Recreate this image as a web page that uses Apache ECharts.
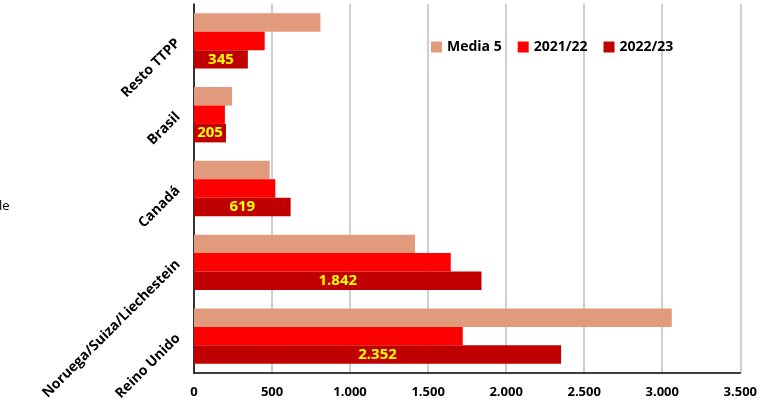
<!DOCTYPE html>
<html><head><meta charset="utf-8">
<script src="https://cdn.jsdelivr.net/npm/echarts@6/dist/echarts.min.js"></script>
<style>html,body{margin:0;padding:0;background:#fff}#c{width:760px;height:411px}</style>
</head><body><div id="c"></div>
<script>
var categories = ['Reino Unido', 'Noruega/Suiza/Liechestein', 'Canadá', 'Brasil', 'Resto TTPP'];
var media5 = [3061, 1416, 485, 244, 810];
var v2122 = [1722, 1645, 521, 198, 453];
var v2223 = [2352, 1842, 619, 205, 345];
var xTicks = [0, 500, 1000, 1500, 2000, 2500, 3000, 3500];

function fmt(v) { return String(v).replace(/\B(?=(\d{3})+(?!\d))/g, '.'); }
var FONT = 'Open Sans';
var chart = echarts.init(document.getElementById('c'));
chart.setOption({
  animation: false,
  textStyle: { fontFamily: FONT },
  legend: {
    data: ['Media 5', '2021/22', '2022/23'],
    left: 426, top: 35,
    itemWidth: 11, itemHeight: 11, itemGap: 16,
    icon: 'rect',
    textStyle: { fontSize: 14, fontWeight: 'bold', color: '#000', fontFamily: FONT }
  },
  grid: { left: 194, right: 18, top: 4, bottom: 38, containLabel: false },
  xAxis: {
    type: 'value', min: xTicks[0], max: xTicks[xTicks.length - 1], interval: 500,
    axisLine: { show: true, lineStyle: { color: '#000', width: 1.5 } },
    axisTick: { show: false },
    splitLine: { show: true, lineStyle: { color: '#BFBFBF', width: 1.5 } },
    axisLabel: { formatter: fmt, color: '#000', fontSize: 13, fontWeight: 'bold', margin: 13, fontFamily: FONT }
  },
  yAxis: {
    type: 'category', data: categories,
    axisLine: { show: true, lineStyle: { color: '#000', width: 1.5 } },
    axisTick: { show: false },
    axisLabel: { rotate: 45, color: '#000', fontSize: 14, fontWeight: 'bold', margin: 16, fontFamily: FONT }
  },
  series: [
    { name: 'Media 5', type: 'bar', data: media5, itemStyle: { color: '#E29A7C' }, barGap: '0%', barCategoryGap: '25%' },
    { name: '2021/22', type: 'bar', data: v2122, itemStyle: { color: '#FF0000' }, barGap: '0%', barCategoryGap: '25%' },
    { name: '2022/23', type: 'bar', data: v2223, itemStyle: { color: '#C00000' }, barGap: '0%', barCategoryGap: '25%',
      label: { show: true, position: 'inside', color: '#FFFF00', fontWeight: 'bold', fontSize: 15, fontFamily: FONT,
        formatter: function (p) { return fmt(p.value); } } }
  ],
  graphic: [
    { type: 'text', left: -1, top: 200, style: { text: 'le', fontSize: 13, fill: '#000', fontFamily: FONT } }
  ]
});
</script></body></html>
